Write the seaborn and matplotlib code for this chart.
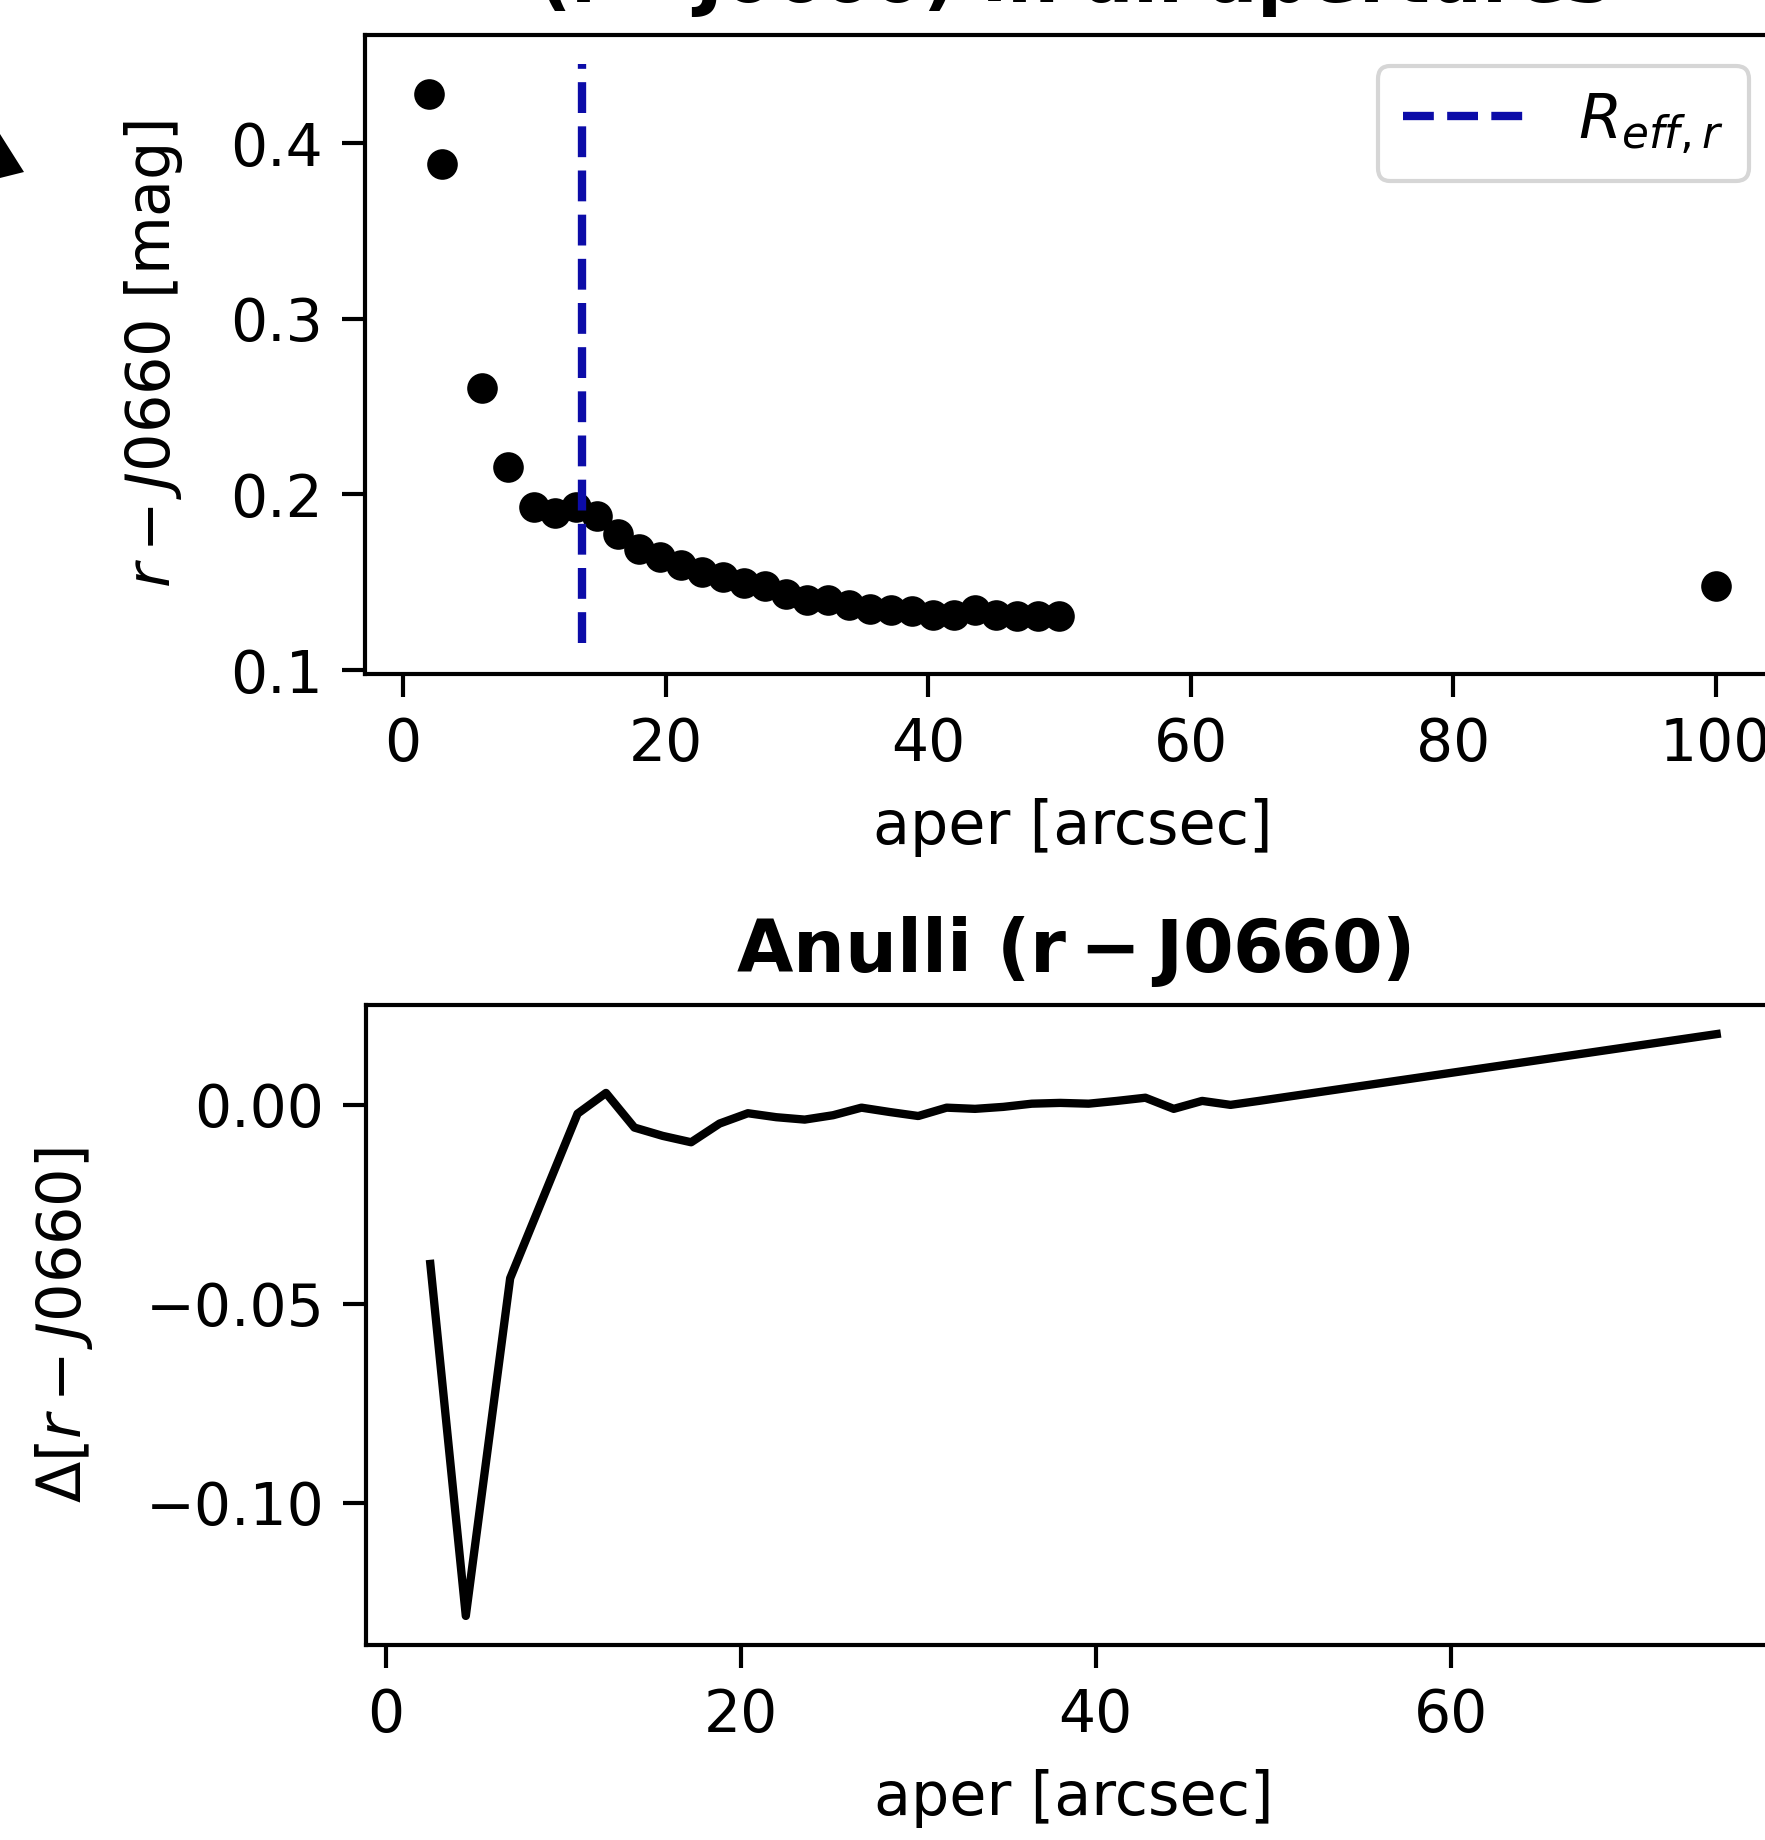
import matplotlib
matplotlib.use("Agg")
import matplotlib.pyplot as plt
from matplotlib.patches import Polygon
import seaborn as sns
import pandas as pd

# ---------------- data ----------------
aper = [2, 3, 6, 8, 10, 11.6, 13.2, 14.8, 16.4, 18.0, 19.6, 21.2, 22.8, 24.4,
        26.0, 27.6, 29.2, 30.8, 32.4, 34.0, 35.6, 37.2, 38.8, 40.4, 42.0, 43.6,
        45.2, 46.8, 48.4, 50.0, 100]
color_r_j0660 = [0.428, 0.388, 0.2605, 0.2157, 0.193, 0.1896, 0.193, 0.1876,
                 0.1776, 0.169, 0.1642, 0.160, 0.156, 0.1528, 0.1495, 0.148,
                 0.1435, 0.140, 0.140, 0.1368, 0.1348, 0.134, 0.1334, 0.1314,
                 0.1314, 0.134, 0.1314, 0.1308, 0.1308, 0.1308, 0.148]

anulli_aper = [2.5, 4.5, 7.0, 9.0, 10.8, 12.4, 14.0, 15.6, 17.2, 18.8, 20.4,
               22.0, 23.6, 25.2, 26.8, 28.4, 30.0, 31.6, 33.2, 34.8, 36.4, 38.0,
               39.6, 41.2, 42.8, 44.4, 46.0, 47.6, 49.2, 75.0]
anulli_delta = [-0.0400, -0.1285, -0.0436, -0.0218, -0.0022, 0.0030, -0.0057,
                -0.0078, -0.0094, -0.0047, -0.0021, -0.0031, -0.0037, -0.0026,
                -0.0007, -0.0018, -0.0028, -0.0007, -0.0010, -0.0005, 0.0003,
                0.0005, 0.0003, 0.0010, 0.0018, -0.0010, 0.0010, 0.0000, 0.0010,
                0.0178]

r_eff = 13.6
r_eff_span = [0.1155, 0.445]
top_ylim = [0.0978, 0.4616]

top_title = r"$\mathbf{(r-J0660)}$ in all apertures"
bottom_title = r"Anulli $\mathbf{(r-J0660)}$"
xlabel = "aper [arcsec]"
top_ylabel = r"$r-J0660$ [mag]"
bottom_ylabel = r"$\Delta[r-J0660]$"
legend_label = r"$R_{eff,r}$"

df_ap = pd.DataFrame({"aper": aper, "color": color_r_j0660})
df_an = pd.DataFrame({"aper": anulli_aper, "delta": anulli_delta})

# ---------------- style ----------------
plt.rcParams.update({
    "font.family": ["DejaVu Sans"],
    "font.size": 14,
    "axes.linewidth": 1.0,
    "xtick.major.size": 5.5,
    "ytick.major.size": 5.5,
    "xtick.major.width": 1.0,
    "ytick.major.width": 1.0,
    "xtick.major.pad": 4.5,
    "ytick.major.pad": 4.5,
    "xtick.labelsize": 14,
    "ytick.labelsize": 14,
    "axes.labelsize": 14.5,
    "legend.fontsize": 15,
    "text.color": "black",
})

W, H = 1765, 1840
fig = plt.figure(figsize=(W / 300, H / 300), dpi=300)

ax1 = fig.add_axes([365 / W, 1 - 674 / H, (1780 - 365) / W, (674 - 35) / H])
ax2 = fig.add_axes([366 / W, 1 - 1645 / H, (1781 - 366) / W, (1645 - 1005) / H])

# top panel
sns.scatterplot(data=df_ap, x="aper", y="color", color="black", s=54,
                linewidth=0, ax=ax1, zorder=3)
ax1.vlines(r_eff, r_eff_span[0], r_eff_span[1], colors="#0c0ca8",
           linestyles="--", linewidth=2.0, label=legend_label, zorder=4)
ax1.set_ylim(top_ylim)
ax1.set_xticks([0, 20, 40, 60, 80, 100])
ax1.set_yticks([0.1, 0.2, 0.3, 0.4])
ax1.set_xlabel(xlabel, labelpad=6)
ax1.set_ylabel(top_ylabel, labelpad=11)
ax1.set_title(top_title, fontsize=17.5, fontweight="bold", pad=8)
ax1.legend(loc="upper right")

# bottom panel
sns.lineplot(data=df_an, x="aper", y="delta", color="black", linewidth=2.0,
             ax=ax2)
ax2.set_xticks([0, 20, 40, 60])
ax2.set_yticks([0.0, -0.05, -0.10])
ax2.set_yticklabels(["0.00", "\u22120.05", "\u22120.10"])
ax2.set_xlabel(xlabel, labelpad=6)
ax2.set_ylabel(bottom_ylabel, labelpad=12)
ax2.set_title(bottom_title, fontsize=17.5, fontweight="bold", pad=8)

# fragment of an arrow head from a neighbouring panel at the left edge
fig.patches.append(Polygon([[0, 1 - 134 / H], [24 / W, 1 - 172 / H], [0, 1 - 178 / H]],
                           closed=True, transform=fig.transFigure,
                           facecolor="black", edgecolor="none"))

fig.savefig("out.png", dpi=300)
